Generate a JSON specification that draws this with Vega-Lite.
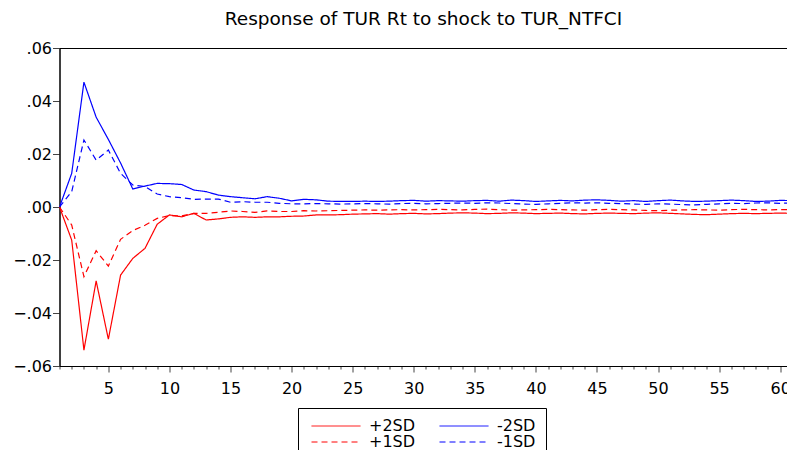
{
  "$schema": "https://vega.github.io/schema/vega-lite/v6.json",
  "width": 728,
  "height": 318,
  "autosize": {"type": "none"},
  "padding": {"left": 59.5, "top": 48, "right": 0, "bottom": 84},
  "config": {
    "font": "DejaVu Sans",
    "view": {"stroke": "black", "strokeWidth": 1},
    "axis": {"labelFont": "DejaVu Sans", "labelColor": "black", "grid": false}
  },
  "title": {
    "text": "Response of TUR Rt to shock to TUR_NTFCI",
    "font": "DejaVu Sans",
    "fontSize": 18.5,
    "fontWeight": "normal",
    "color": "black",
    "anchor": "middle",
    "offset": 12
  },
  "datasets": {
    "irf": [
      {"t": 1, "+2SD": 0, "-2SD": 0, "+1SD": 0, "-1SD": 0},
      {"t": 2, "+2SD": -0.0125, "-2SD": 0.0127, "+1SD": -0.0068, "-1SD": 0.0058},
      {"t": 3, "+2SD": -0.054, "-2SD": 0.0471, "+1SD": -0.0263, "-1SD": 0.0253},
      {"t": 4, "+2SD": -0.0279, "-2SD": 0.0339, "+1SD": -0.0165, "-1SD": 0.0177},
      {"t": 5, "+2SD": -0.0499, "-2SD": 0.0255, "+1SD": -0.0223, "-1SD": 0.0215},
      {"t": 6, "+2SD": -0.0257, "-2SD": 0.0166, "+1SD": -0.0122, "-1SD": 0.0127},
      {"t": 7, "+2SD": -0.0194, "-2SD": 0.0068, "+1SD": -0.0089, "-1SD": 0.0083},
      {"t": 8, "+2SD": -0.0156, "-2SD": 0.0079, "+1SD": -0.0069, "-1SD": 0.0077},
      {"t": 9, "+2SD": -0.0065, "-2SD": 0.0089, "+1SD": -0.0043, "-1SD": 0.0049},
      {"t": 10, "+2SD": -0.003, "-2SD": 0.0088, "+1SD": -0.0032, "-1SD": 0.0039},
      {"t": 11, "+2SD": -0.0037, "-2SD": 0.0085, "+1SD": -0.0034, "-1SD": 0.0035},
      {"t": 12, "+2SD": -0.0024, "-2SD": 0.0064, "+1SD": -0.0024, "-1SD": 0.0029},
      {"t": 13, "+2SD": -0.0049, "-2SD": 0.0058, "+1SD": -0.0024, "-1SD": 0.003},
      {"t": 14, "+2SD": -0.0045, "-2SD": 0.0045, "+1SD": -0.002, "-1SD": 0.003},
      {"t": 15, "+2SD": -0.0039, "-2SD": 0.0039, "+1SD": -0.0015, "-1SD": 0.0018},
      {"t": 16, "+2SD": -0.0037, "-2SD": 0.0035, "+1SD": -0.0017, "-1SD": 0.002},
      {"t": 17, "+2SD": -0.0039, "-2SD": 0.0031, "+1SD": -0.002, "-1SD": 0.0018},
      {"t": 18, "+2SD": -0.0037, "-2SD": 0.0039, "+1SD": -0.0015, "-1SD": 0.0018},
      {"t": 19, "+2SD": -0.0037, "-2SD": 0.0033, "+1SD": -0.0017, "-1SD": 0.0014},
      {"t": 20, "+2SD": -0.0035, "-2SD": 0.0023, "+1SD": -0.0017, "-1SD": 0.0012},
      {"t": 21, "+2SD": -0.0034, "-2SD": 0.0029, "+1SD": -0.0014, "-1SD": 0.0012},
      {"t": 22, "+2SD": -0.003, "-2SD": 0.0027, "+1SD": -0.0015, "-1SD": 0.0013},
      {"t": 23, "+2SD": -0.003, "-2SD": 0.0022, "+1SD": -0.0014, "-1SD": 0.0012},
      {"t": 24, "+2SD": -0.0029, "-2SD": 0.0021, "+1SD": -0.0013, "-1SD": 0.0011},
      {"t": 25, "+2SD": -0.0027, "-2SD": 0.0021, "+1SD": -0.0012, "-1SD": 0.0012},
      {"t": 26, "+2SD": -0.0026, "-2SD": 0.0022, "+1SD": -0.0011, "-1SD": 0.0013},
      {"t": 27, "+2SD": -0.0025, "-2SD": 0.0021, "+1SD": -0.0012, "-1SD": 0.0012},
      {"t": 28, "+2SD": -0.0027, "-2SD": 0.0022, "+1SD": -0.0011, "-1SD": 0.0011},
      {"t": 29, "+2SD": -0.0025, "-2SD": 0.0024, "+1SD": -0.001, "-1SD": 0.0013},
      {"t": 30, "+2SD": -0.0024, "-2SD": 0.0025, "+1SD": -0.0011, "-1SD": 0.0014},
      {"t": 31, "+2SD": -0.0026, "-2SD": 0.0022, "+1SD": -0.001, "-1SD": 0.0012},
      {"t": 32, "+2SD": -0.0025, "-2SD": 0.0024, "+1SD": -0.0009, "-1SD": 0.0013},
      {"t": 33, "+2SD": -0.0023, "-2SD": 0.0023, "+1SD": -0.001, "-1SD": 0.0014},
      {"t": 34, "+2SD": -0.0022, "-2SD": 0.0022, "+1SD": -0.0011, "-1SD": 0.0015},
      {"t": 35, "+2SD": -0.0023, "-2SD": 0.0024, "+1SD": -0.0009, "-1SD": 0.0014},
      {"t": 36, "+2SD": -0.0025, "-2SD": 0.0025, "+1SD": -0.0008, "-1SD": 0.0016},
      {"t": 37, "+2SD": -0.0024, "-2SD": 0.0022, "+1SD": -0.001, "-1SD": 0.0015},
      {"t": 38, "+2SD": -0.0022, "-2SD": 0.0026, "+1SD": -0.0012, "-1SD": 0.0013},
      {"t": 39, "+2SD": -0.0023, "-2SD": 0.0024, "+1SD": -0.0011, "-1SD": 0.0011},
      {"t": 40, "+2SD": -0.0025, "-2SD": 0.0021, "+1SD": -0.001, "-1SD": 0.001},
      {"t": 41, "+2SD": -0.0024, "-2SD": 0.0023, "+1SD": -0.0009, "-1SD": 0.0012},
      {"t": 42, "+2SD": -0.0023, "-2SD": 0.0025, "+1SD": -0.001, "-1SD": 0.0014},
      {"t": 43, "+2SD": -0.0025, "-2SD": 0.0023, "+1SD": -0.0011, "-1SD": 0.0016},
      {"t": 44, "+2SD": -0.0026, "-2SD": 0.0026, "+1SD": -0.0012, "-1SD": 0.0015},
      {"t": 45, "+2SD": -0.0024, "-2SD": 0.0027, "+1SD": -0.001, "-1SD": 0.0016},
      {"t": 46, "+2SD": -0.0023, "-2SD": 0.0025, "+1SD": -0.0009, "-1SD": 0.0014},
      {"t": 47, "+2SD": -0.0024, "-2SD": 0.0022, "+1SD": -0.001, "-1SD": 0.0013},
      {"t": 48, "+2SD": -0.0025, "-2SD": 0.0024, "+1SD": -0.0011, "-1SD": 0.0011},
      {"t": 49, "+2SD": -0.0023, "-2SD": 0.0021, "+1SD": -0.0013, "-1SD": 0.001},
      {"t": 50, "+2SD": -0.0022, "-2SD": 0.0024, "+1SD": -0.0014, "-1SD": 0.0012},
      {"t": 51, "+2SD": -0.0024, "-2SD": 0.0026, "+1SD": -0.0012, "-1SD": 0.0011},
      {"t": 52, "+2SD": -0.0026, "-2SD": 0.0023, "+1SD": -0.0011, "-1SD": 0.0009},
      {"t": 53, "+2SD": -0.0028, "-2SD": 0.0021, "+1SD": -0.001, "-1SD": 0.0008},
      {"t": 54, "+2SD": -0.0029, "-2SD": 0.0022, "+1SD": -0.0011, "-1SD": 0.001},
      {"t": 55, "+2SD": -0.0027, "-2SD": 0.0024, "+1SD": -0.0012, "-1SD": 0.0012},
      {"t": 56, "+2SD": -0.0025, "-2SD": 0.0026, "+1SD": -0.001, "-1SD": 0.0014},
      {"t": 57, "+2SD": -0.0024, "-2SD": 0.0024, "+1SD": -0.0009, "-1SD": 0.0013},
      {"t": 58, "+2SD": -0.0025, "-2SD": 0.0021, "+1SD": -0.001, "-1SD": 0.0015},
      {"t": 59, "+2SD": -0.0024, "-2SD": 0.0022, "+1SD": -0.0011, "-1SD": 0.0016},
      {"t": 60, "+2SD": -0.0023, "-2SD": 0.0025, "+1SD": -0.001, "-1SD": 0.0014},
      {"t": 61, "+2SD": -0.0024, "-2SD": 0.0024, "+1SD": -0.001, "-1SD": 0.0015}
    ]
  },
  "layer": [
    {
      "mark": {"type": "rule", "color": "black", "strokeWidth": 1},
      "encoding": {"y": {"datum": 0, "type": "quantitative"}}
    },
    {
      "data": {"name": "irf"},
      "transform": [{"fold": ["+2SD", "-2SD", "+1SD", "-1SD"], "as": ["series", "v"]}],
      "mark": {"type": "line", "strokeWidth": 1.2, "clip": true},
      "encoding": {
        "x": {
          "field": "t",
          "type": "quantitative",
          "scale": {"domain": [1, 60.6], "nice": false, "zero": false},
          "axis": {
            "title": null,
            "values": [1,2,3,4,5,6,7,8,9,10,11,12,13,14,15,16,17,18,19,20,21,22,23,24,25,26,27,28,29,30,31,32,33,34,35,36,37,38,39,40,41,42,43,44,45,46,47,48,49,50,51,52,53,54,55,56,57,58,59,60],
            "labelExpr": "datum.value % 5 === 0 ? datum.value : ''",
            "labelOverlap": false,
            "labelBound": false,
            "labelFlush": false,
            "labelFontSize": 16,
            "labelPadding": 8,
            "tickSize": {"condition": {"test": "datum.value % 5 === 0", "value": 6}, "value": 3},
            "tickColor": "#444444",
            "domainColor": "black",
            "domainWidth": 1
          }
        },
        "y": {
          "field": "v",
          "type": "quantitative",
          "scale": {"domain": [-0.06, 0.06], "nice": false},
          "axis": {
            "title": null,
            "values": [-0.06, -0.04, -0.02, 0, 0.02, 0.04, 0.06],
            "labelExpr": "replace(format(datum.value, '.2f'), '0.', '.')",
            "labelFontSize": 16,
            "labelPadding": 1,
            "tickSize": 7,
            "tickColor": "#444444",
            "domainColor": "black",
            "labelOverlap": false
          }
        },
        "color": {
          "field": "series",
          "type": "nominal",
          "scale": {"domain": ["+2SD", "-2SD", "+1SD", "-1SD"], "range": ["#ff0000", "#0000ff", "#ff0000", "#0000ff"]},
          "legend": {
            "title": null,
            "orient": "none",
            "legendX": 238.5,
            "legendY": 360,
            "direction": "horizontal",
            "columns": 2,
            "strokeColor": "black",
            "padding": 10,
            "symbolType": "M-3.5,0H3.5",
            "symbolSize": 196,
            "symbolOffset": 20,
            "symbolStrokeWidth": 1,
            "labelFont": "DejaVu Sans",
            "labelFontSize": 16,
            "labelColor": "black",
            "labelOffset": 25,
            "columnPadding": 20,
            "rowPadding": -2.5,
            "encode": {
              "symbols": {
                "update": {
                  "strokeDash": {"signal": "(datum.value === '+1SD' || datum.value === '-1SD') ? [6, 4] : [1, 0]"}
                }
              }
            }
          }
        },
        "strokeDash": {
          "field": "series",
          "type": "nominal",
          "scale": {"domain": ["+2SD", "-2SD", "+1SD", "-1SD"], "range": [[1, 0], [1, 0], [6, 4], [6, 4]]},
          "legend": null
        }
      }
    }
  ]
}
